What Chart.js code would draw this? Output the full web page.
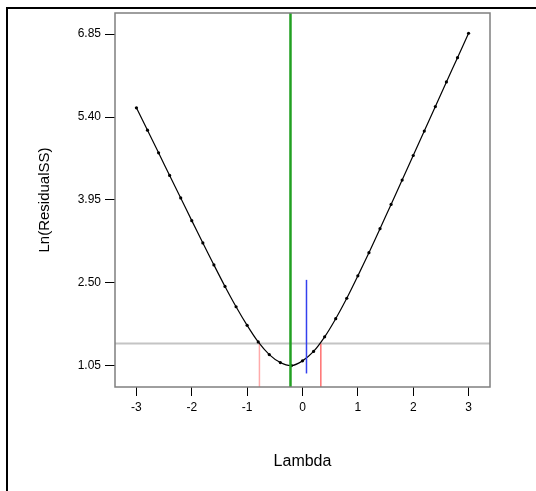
<!DOCTYPE html>
<html>
<head>
<meta charset="utf-8">
<script src="https://cdn.jsdelivr.net/npm/chart.js@4/dist/chart.umd.min.js"></script>
<style>
  html, body { margin: 0; padding: 0; background: #fff; }
  #wrap { position: relative; width: 536px; height: 491px; }
</style>
</head>
<body>
<div id="wrap"><canvas id="boxcox" width="536" height="491"></canvas></div>
<script>
// Box-Cox plot: Ln(ResidualSS) against Lambda
const lambdas = [-3, -2.8, -2.6, -2.4, -2.2, -2, -1.8, -1.6, -1.4, -1.2, -1, -0.8, -0.6, -0.4, -0.2,
                 0, 0.2, 0.4, 0.6, 0.8, 1, 1.2, 1.4, 1.6, 1.8, 2, 2.2, 2.4, 2.6, 2.8, 3];
const lnResidualSS = [5.562, 5.170, 4.774, 4.378, 3.985, 3.588, 3.198, 2.813, 2.437, 2.082, 1.756, 1.466, 1.245, 1.106, 1.052,
                      1.135, 1.300, 1.555, 1.873, 2.230, 2.622, 3.028, 3.447, 3.872, 4.297, 4.727, 5.155, 5.583, 6.015, 6.439, 6.866];

const xTicks = [-3, -2, -1, 0, 1, 2, 3];
const yTicks = [1.05, 2.50, 3.95, 5.40, 6.85];
const yTickLabels = ['1.05', '2.50', '3.95', '5.40', '6.85'];

const xRange = [-3.387, 3.387];
const yRange = [0.678, 7.220];

// reference lines
const bestLambda = -0.217;          // green
const currentLambda = 0.072;        // blue
const currentRange = [0.915, 2.552];
const ciLow = -0.778, ciHigh = 0.331;   // red
const ciLevel = 1.439;              // gray

const curve = lambdas.map((x, i) => ({ x, y: lnResidualSS[i] }));

// draws the plot frame and the outer page border
const framePlugin = {
  id: 'frame',
  afterDatasetsDraw(chart) {
    const { ctx, chartArea: a } = chart;
    ctx.save();
    ctx.strokeStyle = '#7f7f7f';
    ctx.lineWidth = 1.5;
    ctx.strokeRect(a.left, a.top, a.right - a.left, a.bottom - a.top);
    ctx.strokeStyle = '#000';
    ctx.lineWidth = 2;
    ctx.beginPath();
    ctx.moveTo(7, 491);
    ctx.lineTo(7, 8);
    ctx.lineTo(536, 8);
    ctx.stroke();
    ctx.restore();
  }
};

function vline(x, y0, y1, color, width, order) {
  return {
    data: [{ x, y: y0 }, { x, y: y1 }],
    showLine: true, borderColor: color, borderWidth: width,
    pointRadius: 0, order
  };
}

new Chart(document.getElementById('boxcox'), {
  type: 'scatter',
  data: {
    datasets: [
      {
        data: [{ x: xRange[0], y: ciLevel }, { x: xRange[1], y: ciLevel }],
        showLine: true, borderColor: '#c4c4c4', borderWidth: 2, pointRadius: 0, order: 6
      },
      vline(ciLow, yRange[0], ciLevel, '#ffaaaa', 1.5, 5),
      vline(ciHigh, yRange[0], ciLevel, '#ff7070', 1.5, 5),
      {
        data: curve,
        showLine: true, borderColor: '#000', borderWidth: 1.2, tension: 0.3,
        pointRadius: 1.6, pointBackgroundColor: '#000', pointBorderWidth: 0, order: 3
      },
      vline(currentLambda, currentRange[0], currentRange[1], '#3340ee', 1.5, 2),
      vline(bestLambda, yRange[0], yRange[1], '#22a022', 2.5, 1)
    ]
  },
  options: {
    responsive: false,
    animation: false,
    layout: { padding: { top: 13, right: 46, bottom: 0, left: 0 } },
    plugins: { legend: { display: false }, tooltip: { enabled: false } },
    scales: {
      x: {
        type: 'linear', min: xRange[0], max: xRange[1],
        afterBuildTicks: s => { s.ticks = xTicks.map(v => ({ value: v })); },
        afterFit: s => { s.height = 104; },
        grid: { drawOnChartArea: false, tickLength: 9, color: '#000', tickColor: '#000' },
        border: { display: false },
        ticks: { color: '#000', padding: 4, font: { family: 'Arial, "Liberation Sans"', size: 12 },
                 callback: v => String(v) },
        title: { display: true, text: 'Lambda', color: '#000',
                 font: { family: 'Arial, "Liberation Sans"', size: 16 }, padding: { top: 0, bottom: 20 } }
      },
      y: {
        type: 'linear', min: yRange[0], max: yRange[1],
        afterBuildTicks: s => { s.ticks = yTicks.map(v => ({ value: v })); },
        afterFit: s => { s.width = 115; },
        grid: { drawOnChartArea: false, tickLength: 10, color: '#000', tickColor: '#000' },
        border: { display: false },
        ticks: { color: '#000', padding: 4, font: { family: 'Arial, "Liberation Sans"', size: 12 },
                 callback: v => yTickLabels[yTicks.indexOf(v)] },
        title: { display: true, text: 'Ln(ResidualSS)', color: '#000',
                 font: { family: 'Arial, "Liberation Sans"', size: 15 }, padding: { top: 36, bottom: 0 } }
      }
    }
  },
  plugins: [framePlugin]
});
</script>
</body>
</html>
